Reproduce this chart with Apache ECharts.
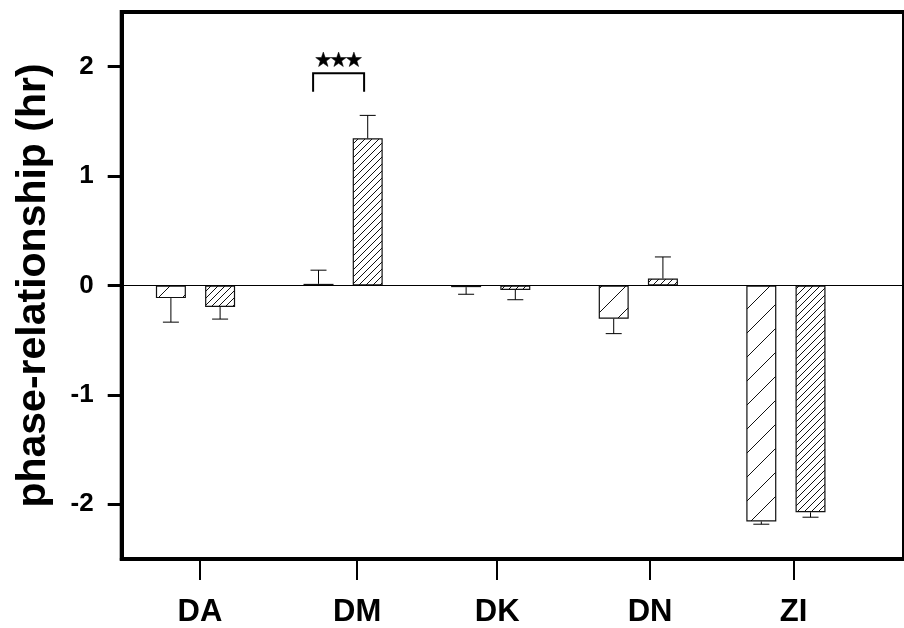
<!DOCTYPE html>
<html>
<head>
<meta charset="utf-8">
<script src="https://cdn.jsdelivr.net/npm/echarts@6/dist/echarts.min.js"></script>
<style>
  html, body { margin: 0; padding: 0; background: #fff; }
  #chart { width: 904px; height: 628px; }
</style>
</head>
<body>
<div id="chart"></div>
<script>
// Groups along the x axis
const categories = ['DA', 'DM', 'DK', 'DN', 'ZI'];
// First condition (sparse hatch): means and SEM
const meanA = [-0.115, 0.015, -0.015, -0.303, -2.157];
const errA  = [0.22, 0.125, 0.065, 0.137, 0.025];
// Second condition (dense hatch): means and SEM
const meanB = [-0.197, 1.345, -0.04, 0.064, -2.073];
const errB  = [0.11, 0.21, 0.09, 0.197, 0.045];
// Y tick values
const yTicks = [-2, -1, 0, 1, 2];
// Significance bracket: group index, bracket top, bracket feet, star level, number of stars
const sigGroup = [1];
const sigTop = [1.94];
const sigFoot = [1.77];
const sigStarLevel = [2.07];
const sigStars = [3];

// Where the group labels sit along the bottom axis (in group units)
const labelSlots = [0.03, 1.095, 2.044, 3.08, 4.052];

function hatch(period) {
  const c = document.createElement('canvas');
  c.width = period; c.height = period;
  const g = c.getContext('2d');
  g.fillStyle = '#fff';
  g.fillRect(0, 0, period, period);
  g.strokeStyle = '#111';
  g.lineWidth = 1;
  for (const k of [-1, 0, 1]) {
    g.beginPath();
    g.moveTo(k * period, period);
    g.lineTo(k * period + period, 0);
    g.stroke();
  }
  return c;
}

// Five-pointed star outline around a pixel centre
function starPoints(cx, cy, R) {
  const r = R * 0.4;
  const pts = [];
  for (let i = 0; i < 10; i++) {
    const a = -Math.PI / 2 + i * Math.PI / 5;
    const rad = i % 2 === 0 ? R : r;
    pts.push([cx + rad * Math.cos(a), cy + rad * Math.sin(a)]);
  }
  return pts;
}

const BAR_OFFSET = 24.6;

function errorRender(side) {
  return function (params, api) {
    const x = api.value(0), v = api.value(1), e = api.value(2);
    const end = v + (v >= 0 ? e : -e);
    const p0 = api.coord([x, v]);
    const p1 = api.coord([x, end]);
    const cx = p0[0] + side * BAR_OFFSET;
    return {
      type: 'group',
      children: [
        { type: 'line', shape: { x1: cx, y1: p0[1], x2: cx, y2: p1[1] }, style: { stroke: '#000', lineWidth: 1 } },
        { type: 'line', shape: { x1: cx - 8, y1: p1[1], x2: cx + 8, y2: p1[1] }, style: { stroke: '#000', lineWidth: 1 } }
      ]
    };
  };
}

const chart = echarts.init(document.getElementById('chart'), null, { renderer: 'canvas' });

const font = 'Liberation Sans, Arial, sans-serif';

chart.setOption({
  animation: false,
  backgroundColor: '#fff',
  grid: {
    left: 121.7, right: -3, top: 12, bottom: 67.5,
    show: true, borderColor: '#000', borderWidth: 4, backgroundColor: 'transparent'
  },
  xAxis: {
    type: 'value', min: -0.5, max: 4.8,
    splitLine: { show: false },
    axisLine: { show: true, onZero: false, lineStyle: { color: '#000', width: 4 } },
    axisTick: { show: true, customValues: labelSlots, length: 21, lineStyle: { color: '#000', width: 2 } },
    axisLabel: {
      customValues: labelSlots,
      formatter: v => categories[Math.round(v)],
      margin: 38, color: '#000', fontSize: 31, fontWeight: 'bold', fontFamily: font
    }
  },
  yAxis: {
    type: 'value', min: -2.5, max: 2.5, interval: 0.5,
    name: 'phase-relationship (hr)', nameLocation: 'middle', nameRotate: 90, nameGap: 68,
    nameTextStyle: { color: '#000', fontSize: 41, fontWeight: 'bold', fontFamily: font },
    splitLine: { show: false },
    axisLine: { show: true, onZero: false, lineStyle: { color: '#000', width: 4 } },
    axisTick: { show: true, customValues: yTicks, length: 14, lineStyle: { color: '#000', width: 3 } },
    axisLabel: {
      customValues: yTicks, margin: 28,
      color: '#000', fontSize: 26, fontWeight: 'bold', fontFamily: font
    }
  },
  series: [
    {
      type: 'bar', barWidth: 30, barGap: '64%',
      data: meanA.map((v, i) => [i, v]),
      itemStyle: { color: { image: hatch(24), repeat: 'repeat' }, borderColor: '#111', borderWidth: 1.2 },
      markLine: {
        silent: true, symbol: 'none', label: { show: false },
        lineStyle: { color: '#000', width: 1.2, type: 'solid' },
        data: [{ yAxis: 0 }]
      }
    },
    {
      type: 'bar', barWidth: 30, barGap: '64%',
      data: meanB.map((v, i) => [i, v]),
      itemStyle: { color: { image: hatch(7), repeat: 'repeat' }, borderColor: '#111', borderWidth: 1.2 }
    },
    {
      type: 'custom', renderItem: errorRender(-1),
      data: meanA.map((v, i) => [i, v, errA[i]]), z: 3
    },
    {
      type: 'custom', renderItem: errorRender(1),
      data: meanB.map((v, i) => [i, v, errB[i]]), z: 3
    },
    {
      type: 'custom',
      data: sigGroup.map((g, i) => [g, sigTop[i], sigFoot[i], sigStarLevel[i], sigStars[i]]),
      renderItem: function (params, api) {
        const g = api.value(0);
        const top = api.coord([g, api.value(1)]);
        const foot = api.coord([g, api.value(2)]);
        const star = api.coord([g, api.value(3)]);
        const n = api.value(4);
        const xl = top[0] - 30, xr = top[0] + 21;
        const mid = (xl + xr) / 2;
        const step = 15.3;
        const children = [
          { type: 'polyline', shape: { points: [[xl, foot[1]], [xl, top[1]], [xr, top[1]], [xr, foot[1]]] },
            style: { stroke: '#000', lineWidth: 2, fill: null } }
        ];
        for (let k = 0; k < n; k++) {
          const cx = mid + (k - (n - 1) / 2) * step;
          children.push({ type: 'polygon', shape: { points: starPoints(cx, star[1] + 1, 8) },
                          style: { fill: '#000', stroke: '#000', lineWidth: 0.5 } });
        }
        return { type: 'group', children: children };
      }
    }
  ]
});
</script>
</body>
</html>
